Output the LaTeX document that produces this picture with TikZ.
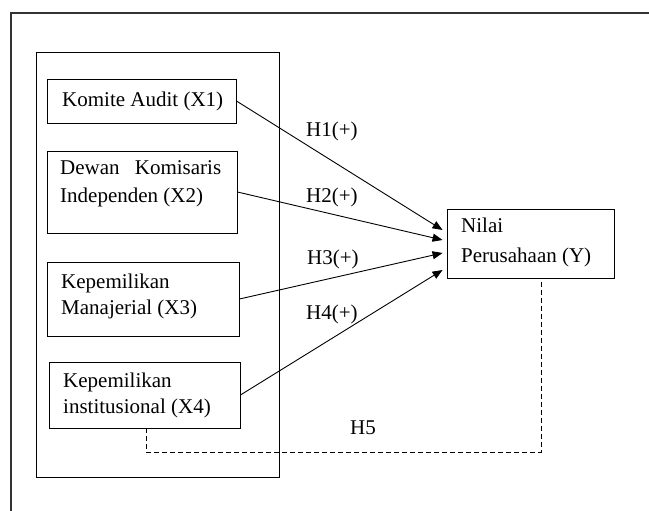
\documentclass[tikz,border=0pt]{standalone}
\usepackage{fontspec}
\setmainfont{Liberation Serif}
\usetikzlibrary{arrows.meta}
\begin{document}
\begin{tikzpicture}[x=1pt,y=-1pt,
  frame/.style={draw=black!80,line width=1.1pt},
  varbox/.style={draw,line width=0.9pt,inner sep=0pt,minimum width=#1},
  txt/.style={anchor=base west,inner sep=0pt,font=\fontsize{21}{27}\selectfont},
  arr/.style={line width=0.9pt,-{Triangle[length=10pt,width=8pt]}},
  dsh/.style={line width=0.9pt,dash pattern=on 5pt off 3pt}]
\useasboundingbox (0,0) rectangle (649,511);
% outer frame (continues beyond the picture)
\draw[frame] (11,515) -- (11,13) -- (652,13);
% inner group box
\node[varbox=243pt,minimum height=425pt] (grp) at (157.5,264.5) {};
% variable boxes
\node[varbox=189pt,minimum height=44pt] (x1) at (141.5,101) {};
\node[varbox=190pt,minimum height=82pt] (x2) at (142,192) {};
\node[varbox=192pt,minimum height=74pt] (x3) at (143,299) {};
\node[varbox=191pt,minimum height=66pt] (x4) at (144.5,395) {};
\node[varbox=167pt,minimum height=69pt] (yy) at (530.5,243.5) {};
% texts
\node[txt] (t1) at (62,107) {Komite Audit (X1)};
\node[txt] (t2a) at (60,175) {\makebox[161pt][s]{Dewan Komisaris}};
\node[txt] (t2b) at (60,202) {Independen (X2)};
\node[txt] (t3a) at (61,288) {Kepemilikan};
\node[txt] (t3b) at (61,314) {Manajerial (X3)};
\node[txt] (t4a) at (63,387) {Kepemilikan};
\node[txt] (t4b) at (63,413) {institusional (X4)};
\node[txt] (tya) at (461,233) {Nilai};
\node[txt] (tyb) at (461,262) {Perusahaan (Y)};
% hypothesis labels
\node[txt] (h1) at (306,137) {H1(+)};
\node[txt] (h2) at (306,202) {H2(+)};
\node[txt] (h3) at (307,264) {H3(+)};
\node[txt] (h4) at (306,319) {H4(+)};
\node[txt] (h5) at (350,434) {H5};
% arrows
\draw[arr] (x1.east) -- ([xshift=-4pt,yshift=13.5pt]yy.west);
\draw[arr] (x2.east) -- ([xshift=-4pt,yshift=3.5pt]yy.west);
\draw[arr] (x3.east) -- ([xshift=-4pt,yshift=-9.5pt]yy.west);
\draw[arr] (x4.east) -- ([xshift=-4pt,yshift=-26.5pt]yy.west);
% dashed H5 path
\coordinate (d1) at (146,452);
\coordinate (d2) at (541,452);
\draw[dsh] ([xshift=1.5pt]x4.south) -- (d1) -- (d2) -- (d2 |- yy.south);
\end{tikzpicture}
\end{document}
